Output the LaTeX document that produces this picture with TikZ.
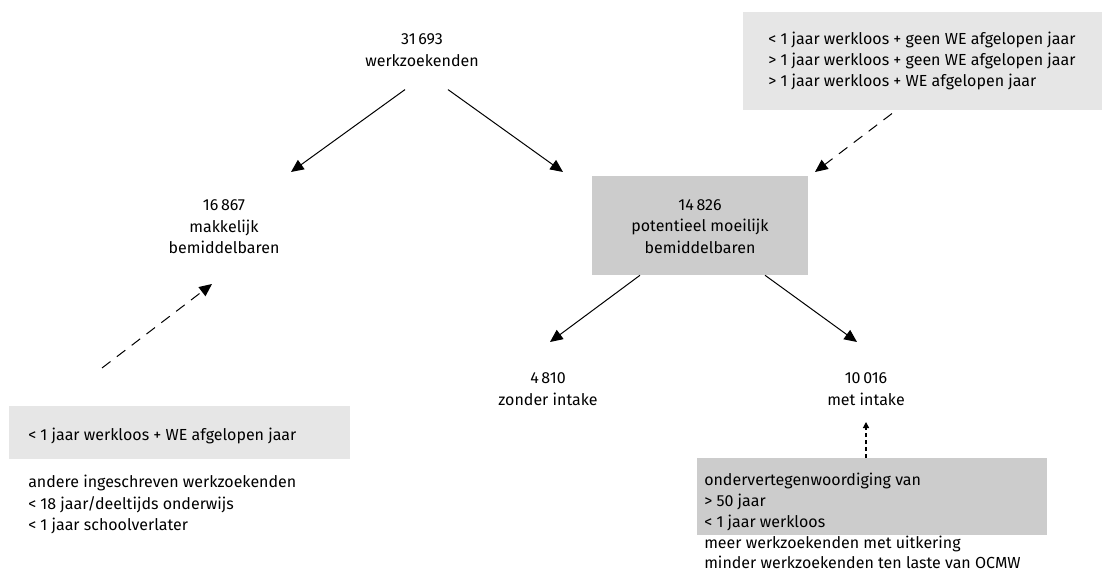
\documentclass[tikz,border=0pt]{standalone}
\usepackage{fontspec}
\setmainfont{Fira Sans}
\usetikzlibrary{arrows.meta,calc}
\definecolor{lightg}{HTML}{E6E6E6}
\definecolor{darkg}{HTML}{CCCCCC}
\begin{document}
\begin{tikzpicture}[x=0.75pt,y=-0.75pt,
  txt/.style={inner sep=0pt, font=\fontsize{12}{16.2}\selectfont, align=center},
  ltxt/.style={inner sep=0pt, font=\fontsize{12}{16.0}\selectfont, align=left},
  btxt/.style={inner sep=0pt, font=\fontsize{12}{15.6}\selectfont, align=left},
  box/.style={inner sep=0pt, draw=none},
  arr/.style={-{Triangle[length=9.5pt,width=8.5pt]}, line width=0.75pt},
  darr/.style={arr, dash pattern=on 8pt off 6pt},
  sarr/.style={-{Triangle[length=4.5pt,width=4.5pt]}, line width=0.9pt, dash pattern=on 3pt off 2.25pt},
]
\useasboundingbox (0,0) rectangle (1102,573);

% boxes
\node[box, fill=lightg, anchor=north west, minimum width=359*0.75pt, minimum height=98*0.75pt] (trbox) at (743,12) {};
\node[box, fill=lightg, anchor=north west, minimum width=341*0.75pt, minimum height=53*0.75pt] (blbox) at (9,406) {};
\node[box, fill=darkg, anchor=north west, minimum width=350*0.75pt, minimum height=77*0.75pt] (brbox) at (697,458) {};
\node[box, fill=darkg, minimum width=216*0.75pt, minimum height=99*0.75pt] (mid) at (700,225.5) {};
\node[txt] (midtxt) at (700,226.5) {14\,826\\potentieel moeilijk\\bemiddelbaren};

% text nodes
\node[txt] (top) at (422,50) {31\,693\\werkzoekenden};
\node[txt] (mak) at (224,227) {16\,867\\makkelijk\\bemiddelbaren};
\node[txt] (zonder) at (548,389) {4\,810\\zonder intake};
\node[txt] (met) at (866,389) {10\,016\\met intake};

\node[ltxt, anchor=north west] (trtxt) at (768,31.5)
  {< 1 jaar werkloos + geen WE afgelopen jaar\\> 1 jaar werkloos + geen WE afgelopen jaar\\> 1 jaar werkloos + WE afgelopen jaar};
\node[ltxt, anchor=base west] (bltxt) at (28,440) {< 1 jaar werkloos + WE afgelopen jaar};
\node[ltxt, anchor=north west] (andere) at (28,475)
  {andere ingeschreven werkzoekenden\\< 18 jaar/deeltijds onderwijs\\< 1 jaar schoolverlater};
\node[btxt, anchor=north west] (brtxt) at (704,473)
  {ondervertegenwoordiging van\\> 50 jaar\\< 1 jaar werkloos\\meer werkzoekenden met uitkering\\minder werkzoekenden ten laste van OCMW};

% arrow end coordinates
\coordinate (tA) at (291,172);
\coordinate (tB) at (563,172);
\coordinate (tC) at (815,172);
\coordinate (tD) at (212,284);
\coordinate (tE) at (550,342);
\coordinate (tF) at (857,342);
\coordinate (tG) at (866,422);

% connectors
\draw[arr] ($(top.south)+(-17,23)$) -- (tA);
\draw[arr] ($(top.south)+(26,23)$) -- (tB);
\draw[arr] ($(mid.south)+(-60,0)$) -- (tE);
\draw[arr] ($(mid.south)+(65,0)$) -- (tF);
\draw[darr] ($(trbox.south west)+(149,3)$) -- (tC);
\draw[darr] ($(blbox.north west)+(93,-38)$) -- (tD);
\draw[sarr] (brbox.north -| tG) -- (tG);
\end{tikzpicture}
\end{document}
